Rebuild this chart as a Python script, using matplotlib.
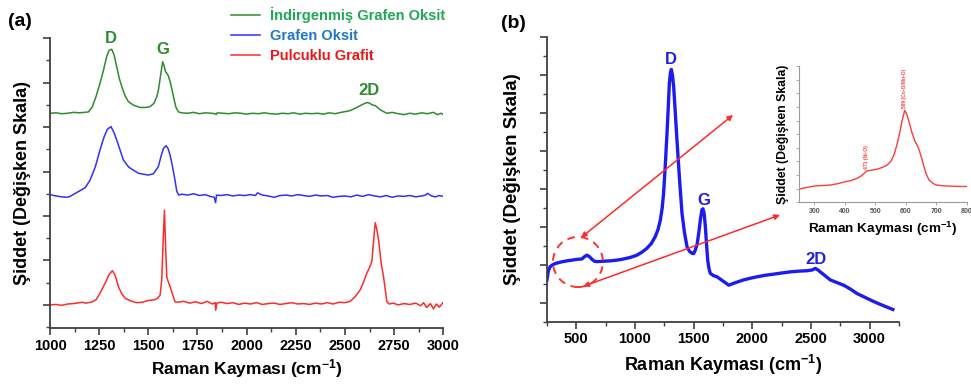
import matplotlib
matplotlib.use("Agg")
import matplotlib.pyplot as plt
from matplotlib.patches import Ellipse
from matplotlib.ticker import MultipleLocator, NullFormatter

plt.rcParams['font.family'] = ['Liberation Sans', 'DejaVu Sans']
plt.rcParams['font.weight'] = 'bold'
plt.rcParams['axes.labelweight'] = 'bold'
plt.rcParams['mathtext.fontset'] = 'custom'
plt.rcParams['mathtext.rm'] = 'Liberation Sans:bold'
plt.rcParams['mathtext.bf'] = 'Liberation Sans:bold'
plt.rcParams['mathtext.default'] = 'bf'

# ---- panel (a): three Raman spectra (offset, arbitrary units) ----
red_x = [1000, 1030, 1060, 1090, 1120, 1150, 1165, 1180, 1210, 1235,
         1254, 1270, 1288, 1300, 1317, 1332, 1348, 1365, 1382, 1410,
         1440, 1470, 1500, 1525, 1545, 1560, 1568, 1575, 1582, 1588,
         1594, 1603, 1611, 1622, 1636, 1650, 1680, 1710, 1740, 1770,
         1800, 1825, 1840, 1843, 1848, 1870, 1900, 1930, 1960, 1990,
         2020, 2050, 2080, 2110, 2140, 2170, 2200, 2230, 2260, 2290,
         2320, 2350, 2380, 2410, 2440, 2470, 2500, 2527, 2555, 2578,
         2595, 2611, 2625, 2637, 2646, 2654, 2662, 2671, 2684, 2696,
         2705, 2713, 2725, 2745, 2770, 2800, 2830, 2860, 2885, 2900,
         2915, 2935, 2950, 2965, 2980, 3000]
red_y = [0.00, 0.01, -0.01, 0.02, 0.03, 0.05, 0.06, 0.04, 0.06, 0.12,
         0.26, 0.40, 0.56, 0.68, 0.77, 0.66, 0.41, 0.25, 0.15, 0.09,
         0.05, 0.06, 0.10, 0.11, 0.14, 0.22, 0.55, 1.40, 2.13, 1.30,
         0.62, 0.50, 0.41, 0.25, 0.07, 0.06, 0.08, 0.04, 0.07, 0.03,
         0.08, 0.02, 0.05, -0.12, 0.04, 0.06, 0.03, 0.05, 0.01, 0.04,
         0.02, 0.05, 0.01, 0.03, 0.04, 0.01, 0.03, 0.05, 0.02, 0.03,
         0.01, 0.04, 0.02, 0.05, 0.02, 0.06, 0.05, 0.08, 0.20, 0.34,
         0.52, 0.71, 0.84, 0.98, 1.45, 1.85, 1.70, 1.46, 0.95, 0.64,
         0.35, 0.07, 0.02, 0.04, 0.00, 0.03, 0.01, 0.04, -0.02, 0.05,
         -0.06, 0.03, -0.09, 0.02, -0.05, 0.06]

blue_x = [1000, 1030, 1060, 1085, 1102, 1125, 1153, 1180, 1204, 1230,
          1254, 1275, 1292, 1310, 1325, 1339, 1355, 1373, 1400, 1424,
          1450, 1475, 1500, 1526, 1551, 1565, 1577, 1590, 1600, 1610,
          1619, 1632, 1645, 1655, 1670, 1700, 1730, 1760, 1790, 1815,
          1835, 1842, 1847, 1870, 1900, 1930, 1960, 1990, 2020, 2045,
          2055, 2080, 2110, 2140, 2170, 2200, 2230, 2260, 2290, 2320,
          2350, 2380, 2410, 2440, 2470, 2500, 2530, 2560, 2590, 2620,
          2650, 2680, 2710, 2740, 2770, 2800, 2830, 2860, 2890, 2910,
          2920, 2940, 2960, 2980, 3000]
blue_y = [2.48, 2.45, 2.43, 2.42, 2.44, 2.50, 2.57, 2.64, 2.81, 3.10,
          3.48, 3.78, 3.95, 4.01, 3.88, 3.71, 3.50, 3.26, 3.10, 3.03,
          2.96, 2.94, 2.92, 2.95, 3.11, 3.35, 3.52, 3.58, 3.52, 3.38,
          3.20, 2.90, 2.55, 2.47, 2.49, 2.47, 2.50, 2.46, 2.48, 2.44,
          2.42, 2.30, 2.47, 2.46, 2.48, 2.45, 2.47, 2.46, 2.48, 2.46,
          2.52, 2.47, 2.45, 2.42, 2.46, 2.47, 2.45, 2.48, 2.46, 2.44,
          2.47, 2.45, 2.46, 2.42, 2.44, 2.45, 2.43, 2.47, 2.44, 2.48,
          2.45, 2.43, 2.46, 2.42, 2.45, 2.44, 2.46, 2.43, 2.45, 2.47,
          2.51, 2.45, 2.43, 2.46, 2.44]

green_x = [1000, 1030, 1060, 1090, 1120, 1150, 1175, 1195, 1215, 1235,
           1254, 1272, 1288, 1300, 1314, 1326, 1339, 1352, 1365, 1382,
           1399, 1425, 1458, 1485, 1509, 1528, 1543, 1552, 1560, 1567,
           1573, 1580, 1587, 1594, 1602, 1611, 1620, 1628, 1640, 1653,
           1670, 1700, 1730, 1760, 1790, 1820, 1840, 1845, 1850, 1880,
           1910, 1940, 1970, 2000, 2030, 2060, 2090, 2120, 2150, 2180,
           2210, 2240, 2270, 2300, 2330, 2360, 2390, 2420, 2450, 2480,
           2505, 2527, 2550, 2578, 2595, 2611, 2625, 2637, 2655, 2679,
           2695, 2713, 2740, 2770, 2800, 2830, 2860, 2890, 2920, 2950,
           2970, 2990, 3000]
green_y = [4.31, 4.32, 4.30, 4.31, 4.33, 4.32, 4.33, 4.34, 4.45, 4.70,
           4.98, 5.28, 5.58, 5.72, 5.75, 5.62, 5.36, 5.10, 4.91, 4.70,
           4.57, 4.49, 4.44, 4.44, 4.46, 4.53, 4.68, 4.85, 5.09, 5.30,
           5.47, 5.38, 5.25, 5.21, 5.15, 5.02, 4.85, 4.68, 4.45, 4.34,
           4.32, 4.31, 4.33, 4.30, 4.32, 4.31, 4.30, 4.28, 4.32, 4.31,
           4.30, 4.32, 4.31, 4.29, 4.31, 4.30, 4.32, 4.30, 4.29, 4.31,
           4.30, 4.32, 4.29, 4.31, 4.30, 4.31, 4.29, 4.32, 4.30, 4.33,
           4.35, 4.37, 4.42, 4.48, 4.52, 4.55, 4.54, 4.50, 4.48, 4.39,
           4.35, 4.31, 4.33, 4.30, 4.28, 4.31, 4.29, 4.32, 4.30, 4.33,
           4.28, 4.31, 4.28]

series_names = ['İndirgenmiş Grafen Oksit', 'Grafen Oksit', 'Pulcuklu Grafit']
peak_labels_a = ['D', 'G', '2D']
peak_pos_a = [(1310, 6.0), (1575, 5.75), (2620, 4.83)]

# ---- panel (b): composite spectrum ----
b_x = [250, 262, 278, 300, 321, 370, 420, 465, 505, 548,
       570, 591, 612, 634, 655, 676, 730, 790, 850, 904,
       960, 1017, 1060, 1102, 1140, 1173, 1196, 1216, 1232, 1244,
       1258, 1273, 1283, 1293, 1302, 1310, 1320, 1330, 1344, 1358,
       1380, 1401, 1422, 1444, 1465, 1486, 1500, 1514, 1530, 1543,
       1558, 1571, 1580, 1590, 1600, 1610, 1620, 1630, 1642, 1670,
       1699, 1750, 1799, 1860, 1927, 1980, 2040, 2110, 2182, 2250,
       2324, 2400, 2466, 2510, 2537, 2560, 2579, 2620, 2664, 2720,
       2778, 2835, 2892, 2960, 3034, 3110, 3198]
b_y = [0.61, 0.85, 0.96, 1.01, 1.04, 1.08, 1.11, 1.13, 1.15, 1.16,
       1.22, 1.26, 1.22, 1.15, 1.10, 1.09, 1.10, 1.11, 1.13, 1.16,
       1.20, 1.26, 1.34, 1.44, 1.57, 1.75, 1.93, 2.18, 2.50, 2.89,
       3.60, 4.46, 5.10, 5.78, 6.05, 6.15, 5.98, 5.69, 5.00, 4.29,
       3.25, 2.36, 1.85, 1.48, 1.36, 1.31, 1.30, 1.39, 1.55, 1.83,
       2.20, 2.46, 2.48, 2.35, 2.01, 1.55, 1.13, 0.92, 0.78, 0.72,
       0.69, 0.58, 0.47, 0.54, 0.61, 0.65, 0.69, 0.73, 0.76, 0.79,
       0.82, 0.84, 0.85, 0.87, 0.91, 0.87, 0.82, 0.72, 0.61, 0.54,
       0.47, 0.37, 0.25, 0.15, 0.04, -0.06, -0.17]
peak_labels_b = ['D', 'G', '2D']
peak_pos_b = [(1310, 6.4), (1590, 2.7), (2540, 1.15)]

# ---- inset: low-wavenumber region ----
in_x = [250, 275, 300, 325, 350, 375, 400, 420, 440, 455,
        465, 471, 480, 495, 510, 525, 540, 552, 562, 572,
        580, 588, 596, 603, 610, 620, 630, 640, 648, 656,
        665, 675, 688, 700, 725, 750, 775, 800]
in_y = [0.96, 1.08, 1.18, 1.22, 1.25, 1.35, 1.49, 1.58, 1.75, 1.95,
        2.15, 2.28, 2.32, 2.38, 2.45, 2.58, 2.75, 3.05, 3.55, 4.35,
        5.15, 6.05, 6.76, 6.45, 5.90, 5.10, 4.45, 4.05, 3.50, 2.85,
        2.15, 1.65, 1.38, 1.26, 1.20, 1.17, 1.15, 1.15]
in_peaks = ['471 (Ni-O)', '599 (Co-O/Mn-O)']
in_peak_pos = [(471, 2.45), (596, 6.95)]

xlab = r'Raman Kayması (cm$^{-1}$)'
ylab = 'Şiddet (Değişken Skala)'
spine_c = '#404040'


def style_axis(ax, lw=1.3):
    for s in ['top', 'right']:
        ax.spines[s].set_visible(False)
    for s in ['left', 'bottom']:
        ax.spines[s].set_color(spine_c)
        ax.spines[s].set_linewidth(lw)
    ax.tick_params(which='major', direction='out', length=5, width=1.2, color=spine_c)
    ax.tick_params(which='minor', direction='out', length=3, width=1.0, color=spine_c)
    ax.yaxis.set_major_formatter(NullFormatter())


def bold_ticks(ax):
    plt.setp(ax.get_xticklabels(), fontweight='bold')


fig = plt.figure(figsize=(9.71, 3.85), dpi=100)

# panel (a)
ax1 = fig.add_axes([0.0515, 0.148, 0.405, 0.753])
l1, = ax1.plot(green_x, green_y, color='#2e8b2e', lw=1.1)
l2, = ax1.plot(blue_x, blue_y, color='#3030ff', lw=1.1)
l3, = ax1.plot(red_x, red_y, color='#ff2a2a', lw=1.1)
ax1.set_xlim(1000, 3000)
ax1.set_ylim(-0.52, 6.0)
ax1.xaxis.set_major_locator(MultipleLocator(250))
ax1.xaxis.set_minor_locator(MultipleLocator(125))
ax1.yaxis.set_major_locator(MultipleLocator(1))
ax1.yaxis.set_minor_locator(MultipleLocator(0.5))
style_axis(ax1)
ax1.tick_params(axis='x', labelsize=10.5, pad=3)
bold_ticks(ax1)
ax1.set_xlabel(xlab, fontsize=12.5, labelpad=3)
ax1.set_ylabel(ylab, fontsize=13, labelpad=5)
for lab, (px, py) in zip(peak_labels_a, peak_pos_a):
    ax1.text(px, py, lab, color='#2e8b2e', fontsize=12, ha='center', va='center')
leg = ax1.legend([l1, l2, l3], series_names, loc='upper left',
                 bbox_to_anchor=(0.238, 0.982), bbox_transform=fig.transFigure,
                 frameon=False, fontsize=10.5, handlelength=2.0, handletextpad=0.7,
                 labelspacing=0.4, borderpad=0, borderaxespad=0)
for t, c in zip(leg.get_texts(), ['#1fa855', '#1f78c8', '#ee1515']):
    t.set_color(c)
fig.text(0.008, 0.945, '(a)', fontsize=14, ha='left', va='center')

# panel (b)
ax2 = fig.add_axes([0.5633, 0.1636, 0.3625, 0.740])
ax2.plot(b_x, b_y, color='#1c1cf0', lw=2.4)
ax2.set_xlim(250, 3250)
ax2.set_ylim(-0.5, 7.0)
ax2.xaxis.set_major_locator(MultipleLocator(500))
ax2.xaxis.set_minor_locator(MultipleLocator(250))
ax2.yaxis.set_major_locator(MultipleLocator(1))
ax2.yaxis.set_minor_locator(MultipleLocator(0.5))
style_axis(ax2)
ax2.tick_params(axis='x', labelsize=10.5, pad=2)
bold_ticks(ax2)
ax2.set_xlabel(xlab, fontsize=13, labelpad=5)
ax2.set_ylabel(ylab, fontsize=13.5, labelpad=10)
for lab, (px, py) in zip(peak_labels_b, peak_pos_b):
    ax2.text(px, py, lab, color='#2020e0', fontsize=12, ha='center', va='center')
fig.text(0.516, 0.94, '(b)', fontsize=14, ha='left', va='center')

circ = Ellipse((514, 1.08), 426, 1.32, fill=False, ls=(0, (4, 3)), lw=1.4,
               color='#ff3030', zorder=5)
ax2.add_patch(circ)
arrow_kw = dict(arrowstyle='<|-|>', color='#ff2a2a', lw=1.1,
                mutation_scale=8, shrinkA=0, shrinkB=0)
ax2.annotate('', xy=(0.7549, 0.7013), xycoords='figure fraction',
             xytext=(540, 1.72), textcoords='data', arrowprops=arrow_kw)
ax2.annotate('', xy=(0.8033, 0.4416), xycoords='figure fraction',
             xytext=(560, 0.44), textcoords='data', arrowprops=arrow_kw)

# inset
ax3 = fig.add_axes([0.8229, 0.475, 0.173, 0.353])
ax3.plot(in_x, in_y, color='#ff3a3a', lw=1.0)
ax3.set_xlim(250, 800)
ax3.set_ylim(0, 10)
ax3.xaxis.set_major_locator(MultipleLocator(100))
ax3.yaxis.set_major_locator(MultipleLocator(1))
for s in ['top', 'right']:
    ax3.spines[s].set_visible(False)
for s in ['left', 'bottom']:
    ax3.spines[s].set_color('#9a9a9a')
    ax3.spines[s].set_linewidth(0.8)
ax3.tick_params(which='major', direction='out', length=2, width=0.6,
                color='#9a9a9a', labelsize=5, labelcolor='#555555', pad=2)
ax3.yaxis.set_major_formatter(NullFormatter())
bold_ticks(ax3)
ax3.set_xlabel(xlab, fontsize=9.7, labelpad=4)
ax3.set_ylabel(ylab, fontsize=8.8, labelpad=3)
for lab, (px, py) in zip(in_peaks, in_peak_pos):
    ax3.text(px, py, lab, color='#ff3a3a', fontsize=3.6, rotation=90,
             ha='center', va='bottom')

fig.savefig('out.png', dpi=100)
